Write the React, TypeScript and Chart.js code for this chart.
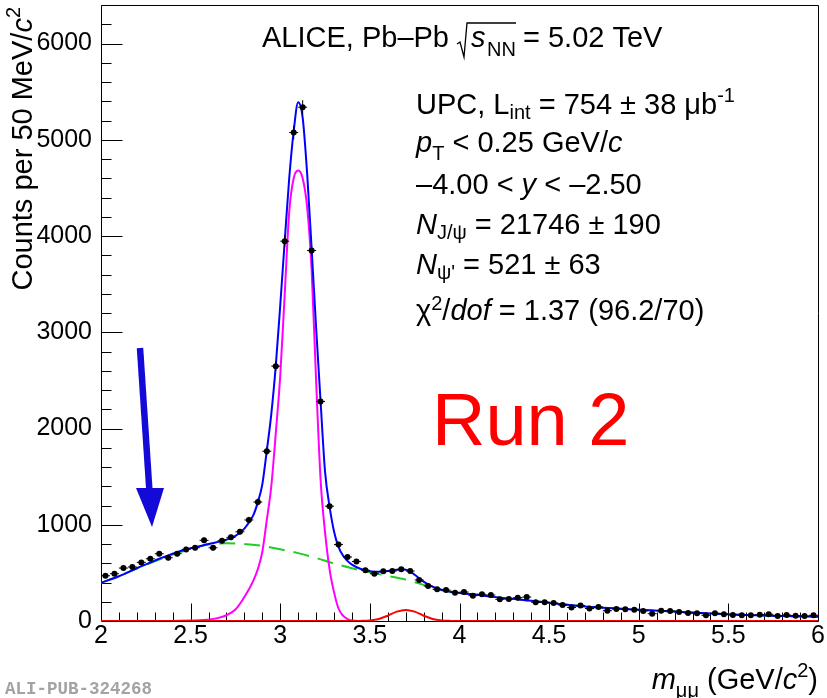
import React, { useEffect, useRef } from "react";
import { Chart, registerables } from "chart.js";

Chart.register(...registerables);

const FONT = '"Liberation Sans", Arial, Helvetica, sans-serif';

// Measured counts per 50 MeV/c^2 bin, bins from 2.00 to 6.00 GeV/c^2
const counts = [
  470, 491, 550, 561, 609, 647, 699, 657, 699, 744,
  761, 838, 761, 834, 869, 927, 1050, 1236, 1764, 2648,
  3946, 5075, 5338, 3849, 2281, 1193, 794, 665, 618, 528,
  491, 516, 519, 537, 519, 426, 363, 329, 322, 294,
  301, 263, 277, 270, 225, 228, 242, 249, 194, 194,
  187, 166, 140, 162, 130, 145, 107, 125, 121, 117,
  104, 76, 107, 104, 93, 83, 80, 59, 80, 70,
  62, 59, 59, 65, 70, 52, 62, 55, 52, 59,
];
const binLow = 2.0;
const binWidth = 0.05;

// Total fit (blue)
const totalFitX = [2.0, 2.1, 2.2, 2.3, 2.4, 2.5, 2.6, 2.7, 2.75, 2.8, 2.85, 2.875, 2.9, 2.925, 2.95, 2.975, 3.0, 3.025, 3.05, 3.075, 3.1, 3.125, 3.15, 3.175, 3.2, 3.225, 3.25, 3.275, 3.3, 3.325, 3.35, 3.375, 3.4, 3.45, 3.5, 3.55, 3.6, 3.65, 3.69, 3.72, 3.75, 3.78, 3.82, 3.86, 3.9, 3.95, 4.0, 4.1, 4.2, 4.3, 4.4, 4.5, 4.6, 4.7, 4.8, 4.9, 5.0, 5.2, 5.4, 5.6, 5.8, 6.0];
const totalFitY = [398, 465, 548, 628, 700, 755, 800, 845, 885, 960, 1100, 1235, 1420, 1770, 2150, 2650, 3280, 3950, 4600, 5090, 5390, 5230, 4650, 3870, 3050, 2280, 1550, 1190, 930, 770, 680, 625, 585, 540, 518, 512, 520, 532, 535, 520, 480, 435, 385, 348, 325, 305, 292, 272, 248, 230, 210, 190, 168, 150, 138, 128, 118, 98, 78, 62, 52, 45];

// Background (green dashed)
const bkgX = [2.0, 2.1, 2.2, 2.3, 2.4, 2.5, 2.6, 2.7, 2.8, 2.9, 3.0, 3.1, 3.2, 3.3, 3.4, 3.5, 3.6, 3.7, 3.8, 3.9, 4.0, 4.1, 4.2, 4.3, 4.4, 4.5, 4.6, 4.7, 4.8, 4.9, 5.0, 5.2, 5.4, 5.6, 5.8, 6.0];
const bkgY = [398, 465, 545, 620, 690, 750, 795, 808, 800, 780, 745, 705, 655, 598, 548, 505, 468, 430, 375, 320, 292, 272, 248, 230, 210, 190, 168, 150, 138, 128, 118, 98, 78, 62, 52, 45];

// J/psi signal (magenta)
const jpsiX = [2.4, 2.5, 2.57, 2.65, 2.7, 2.75, 2.8, 2.85, 2.875, 2.9, 2.925, 2.95, 2.975, 3.0, 3.025, 3.05, 3.075, 3.1, 3.125, 3.15, 3.175, 3.2, 3.225, 3.25, 3.275, 3.3, 3.325, 3.35, 3.375, 3.4, 3.45];
const jpsiY = [0, 5, 10, 30, 60, 120, 250, 420, 540, 720, 1050, 1400, 1950, 2550, 3400, 4250, 4600, 4680, 4600, 4300, 3650, 2500, 1470, 920, 540, 300, 130, 55, 20, 5, 0];

// psi' signal (red)
const psi2sX = [2.0, 3.4, 3.45, 3.5, 3.55, 3.6, 3.65, 3.7, 3.75, 3.8, 3.85, 3.9, 3.95, 4.0, 6.0];
const psi2sY = [0, 0, 1, 6, 21, 55, 97, 115, 97, 55, 21, 6, 1, 0, 0];

const xTickValues = [2, 2.5, 3, 3.5, 4, 4.5, 5, 5.5, 6];
const yTickValues = [0, 1000, 2000, 3000, 4000, 5000, 6000];

type Seg = { t: string; it?: boolean; sub?: boolean; sup?: boolean; dy?: number; size?: number };

function segFont(s: Seg, size: number) {
  const sz = s.size ?? (s.sub || s.sup ? Math.round(size * 0.7) : size);
  return `${s.it ? "italic " : ""}${sz}px ${FONT}`;
}
function richWidth(ctx: CanvasRenderingContext2D, segs: Seg[], size: number) {
  let w = 0;
  for (const s of segs) {
    ctx.font = segFont(s, size);
    w += ctx.measureText(s.t).width;
  }
  return w;
}
function drawRich(ctx: CanvasRenderingContext2D, segs: Seg[], x: number, y: number, size: number) {
  let cx = x;
  for (const s of segs) {
    ctx.font = segFont(s, size);
    const dy = s.dy ?? (s.sub ? 5 : s.sup ? -12 : 0);
    ctx.fillText(s.t, cx, y + dy);
    cx += ctx.measureText(s.t).width;
  }
  return cx - x;
}

const infoLines: { segs: Seg[]; y: number }[] = [
  { segs: [{ t: "UPC, L" }, { t: "int", sub: true, dy: 5 }, { t: " = 754 ± 38 μb" }, { t: "-1", sup: true, dy: -12 }], y: 114 },
  { segs: [{ t: "p", it: true }, { t: "T", sub: true, dy: 8 }, { t: " < 0.25 GeV/" }, { t: "c", it: true }], y: 152 },
  { segs: [{ t: "–4.00 < " }, { t: "y", it: true }, { t: " < –2.50" }], y: 194 },
  { segs: [{ t: "N", it: true }, { t: "J/ψ", sub: true, dy: 5 }, { t: " = 21746 ± 190" }], y: 234 },
  { segs: [{ t: "N", it: true }, { t: "ψ'", sub: true, dy: 5 }, { t: " = 521 ± 63" }], y: 274 },
  { segs: [{ t: "χ" }, { t: "2", sup: true, dy: -10 }, { t: "/" }, { t: "dof", it: true }, { t: " = 1.37 (96.2/70)" }], y: 320 },
];

const xTitle: Seg[] = [{ t: "m", it: true }, { t: "μμ", sub: true, dy: 8 }, { t: " (GeV/" }, { t: "c", it: true }, { t: "2", sup: true, dy: -12 }, { t: ")" }];
const yTitle: Seg[] = [{ t: "Counts per 50 MeV/" }, { t: "c", it: true }, { t: "2", sup: true, dy: -12 }];

const rootPlugin = {
  id: "rootDecor",
  beforeDatasetsDraw(chart: any) {
    const { ctx, chartArea: a, scales } = chart;
    const x = scales.x;
    const y = scales.y;
    ctx.save();
    ctx.strokeStyle = "#000";
    ctx.lineWidth = 1;
    const L = Math.round(a.left) + 0.5;
    const B = Math.round(a.bottom) + 0.5;
    ctx.beginPath();
    ctx.rect(L, Math.round(a.top) + 0.5, Math.round(a.right - a.left), Math.round(a.bottom - a.top));
    for (let v = 200; v <= 6400; v += 200) {
      const py = Math.round(y.getPixelForValue(v)) + 0.5;
      const len = v % 1000 === 0 ? 21 : 10;
      ctx.moveTo(L, py);
      ctx.lineTo(L + len, py);
    }
    for (let k = 21; k < 60; k++) {
      const px = Math.round(x.getPixelForValue(k / 10)) + 0.5;
      const len = k % 5 === 0 ? 18 : 9;
      ctx.moveTo(px, B);
      ctx.lineTo(px, B - len);
    }
    ctx.stroke();
    ctx.restore();
  },
  afterDatasetsDraw(chart: any) {
    const { ctx, scales } = chart;
    const x = scales.x;
    const y = scales.y;
    ctx.save();
    ctx.strokeStyle = "#000";
    ctx.lineWidth = 1;
    ctx.beginPath();
    counts.forEach((v, i) => {
      const xc = binLow + binWidth * (i + 0.5);
      const px = x.getPixelForValue(xc);
      const py = y.getPixelForValue(v);
      const e = Math.sqrt(v);
      ctx.moveTo(x.getPixelForValue(xc - binWidth / 2), py);
      ctx.lineTo(x.getPixelForValue(xc + binWidth / 2), py);
      ctx.moveTo(px, y.getPixelForValue(v + e));
      ctx.lineTo(px, y.getPixelForValue(v - e));
    });
    ctx.stroke();
    ctx.restore();
  },
  afterDraw(chart: any) {
    const ctx: CanvasRenderingContext2D = chart.ctx;
    ctx.save();
    ctx.textBaseline = "alphabetic";
    ctx.textAlign = "left";
    ctx.fillStyle = "#000";

    // header line
    ctx.font = `29px ${FONT}`;
    ctx.fillText("ALICE, Pb–Pb", 262, 47);
    ctx.strokeStyle = "#000";
    ctx.lineWidth = 1.3;
    ctx.beginPath();
    ctx.moveTo(457, 44);
    ctx.lineTo(460, 42);
    ctx.lineTo(464, 57);
    ctx.lineTo(467, 23);
    ctx.lineTo(516, 23);
    ctx.stroke();
    drawRich(ctx, [{ t: "s", it: true }], 471, 47, 29);
    drawRich(ctx, [{ t: "NN", sub: true, dy: 9 }], 487, 47, 29);
    ctx.font = `29px ${FONT}`;
    ctx.fillText("= 5.02 TeV", 523, 47);

    for (const ln of infoLines) drawRich(ctx, ln.segs, 416, ln.y, 29);

    // x title
    const wx = richWidth(ctx, xTitle, 29);
    drawRich(ctx, xTitle, 818 - wx, 689, 29);

    // y title
    const wy = richWidth(ctx, yTitle, 29);
    ctx.save();
    ctx.translate(32, 7 + wy);
    ctx.rotate(-Math.PI / 2);
    drawRich(ctx, yTitle, 0, 0, 29);
    ctx.restore();

    // Run 2
    ctx.fillStyle = "#ff0000";
    ctx.font = `74px ${FONT}`;
    ctx.fillText("Run 2", 432, 445);

    // arrow
    ctx.strokeStyle = "#140ad8";
    ctx.fillStyle = "#140ad8";
    ctx.lineWidth = 6.5;
    ctx.beginPath();
    ctx.moveTo(140, 348);
    ctx.lineTo(149.5, 492);
    ctx.stroke();
    ctx.beginPath();
    ctx.moveTo(136, 488);
    ctx.lineTo(164, 488);
    ctx.lineTo(152, 527);
    ctx.closePath();
    ctx.fill();

    // publication id
    ctx.fillStyle = "#a3a3a3";
    ctx.font = `bold 17.5px "Liberation Mono", "DejaVu Sans Mono", monospace`;
    ctx.fillText("ALI-PUB-324268", 5, 694);
    ctx.restore();
  },
};

function pts(xs: number[], ys: number[]) {
  return xs.map((v, i) => ({ x: v, y: ys[i] }));
}

export default function App() {
  const ref = useRef<HTMLCanvasElement | null>(null);
  useEffect(() => {
    document.body.style.margin = "0";
    const canvas = ref.current!;
    const dataPts = counts.map((v, i) => ({ x: binLow + binWidth * (i + 0.5), y: v }));
    const curve = (color: string, data: any[], order: number, dash: number[] = []) => ({
      type: "line" as const,
      data,
      borderColor: color,
      borderWidth: 2,
      borderDash: dash,
      pointRadius: 0,
      fill: false,
      cubicInterpolationMode: "monotone" as const,
      order,
    });
    const chart = new Chart(canvas, {
      type: "line",
      data: {
        datasets: [
          {
            type: "line",
            data: dataPts,
            showLine: false,
            pointRadius: 3,
            pointBackgroundColor: "#000",
            pointBorderWidth: 0,
            order: 0,
          } as any,
          curve("#0000ff", pts(totalFitX, totalFitY), 1),
          curve("#ff0000", pts(psi2sX, psi2sY), 2),
          curve("#ff00ff", pts(jpsiX, jpsiY), 3),
          curve("#22cc22", pts(bkgX, bkgY), 4, [16, 9]),
        ],
      },
      options: {
        responsive: false,
        animation: false,
        devicePixelRatio: 1,
        layout: { padding: { top: 5, right: 9, left: 0, bottom: 0 } },
        plugins: { legend: { display: false }, tooltip: { enabled: false } },
        scales: {
          x: {
            type: "linear",
            min: 2,
            max: 6,
            afterFit: (s: any) => {
              s.height = 77;
              s.paddingLeft = 0;
              s.paddingRight = 0;
            },
            afterBuildTicks: (s: any) => { s.ticks = xTickValues.map((v) => ({ value: v })); },
            grid: { display: false, drawTicks: false },
            border: { display: false },
            ticks: {
              padding: 0,
              maxRotation: 0,
              autoSkip: false,
              color: "#000",
              font: { family: FONT, size: 25 },
              callback: (v: any) => String(v),
            },
          },
          y: {
            type: "linear",
            min: 0,
            max: 6400,
            afterFit: (s: any) => {
              s.width = 101;
              s.paddingTop = 0;
              s.paddingBottom = 0;
            },
            afterBuildTicks: (s: any) => { s.ticks = yTickValues.map((v) => ({ value: v })); },
            grid: { display: false, drawTicks: false },
            border: { display: false },
            ticks: {
              padding: 9,
              autoSkip: false,
              color: "#000",
              font: { family: FONT, size: 25 },
              callback: (v: any) => String(v),
            },
          },
        },
      },
      plugins: [rootPlugin],
    });
    return () => chart.destroy();
  }, []);
  return (
    <div style={{ position: "absolute", left: 0, top: 0, width: 827, height: 698 }}>
      <canvas ref={ref} width={827} height={698} style={{ display: "block", width: 827, height: 698 }} />
    </div>
  );
}
